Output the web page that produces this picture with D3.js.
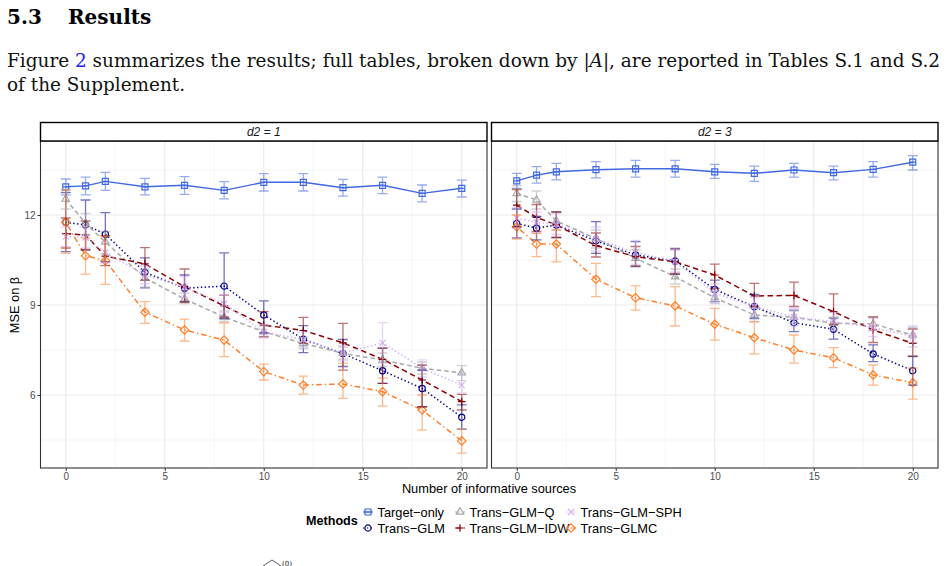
<!DOCTYPE html>
<html>
<head>
<meta charset="utf-8">
<script src="https://cdn.jsdelivr.net/npm/d3@7"></script>
<style>
  body { margin: 0; background: #fff; }
  svg { display: block; }
</style>
</head>
<body>
<svg id="page" width="947" height="566"></svg>
<script>
var xs = [0, 1, 2, 4, 6, 8, 10, 12, 14, 16, 18, 20];
var methods = ["Target-only", "Trans-GLM", "Trans-GLM-Q", "Trans-GLM-IDW", "Trans-GLM-SPH", "Trans-GLMC"];
var facets = ["d2 = 1", "d2 = 3"];
var xTicks = [0, 5, 10, 15, 20];
var xMinor = [2.5, 7.5, 12.5, 17.5];
var yTicks = [6, 9, 12];
var yMinor = [4.5, 7.5, 10.5, 13.5];

// d2 = 1
var d1Target   = [12.94, 12.97, 13.12, 12.94, 12.99, 12.82, 13.09, 13.09, 12.91, 12.99, 12.72, 12.89];
var d1TargetLo = [12.67, 12.67, 12.82, 12.67, 12.69, 12.54, 12.80, 12.80, 12.63, 12.71, 12.44, 12.60];
var d1TargetHi = [13.20, 13.26, 13.42, 13.22, 13.28, 13.11, 13.38, 13.38, 13.19, 13.26, 13.00, 13.16];
var d1Glm      = [11.76, 11.67, 11.36, 10.09, 9.56, 9.63, 8.67, 7.86, 7.38, 6.81, 6.22, 5.26];
var d1GlmLo    = [10.78, 10.83, 10.44, 9.57, 9.11, 8.55, 8.07, 7.41, 6.95, 6.39, 5.61, 4.86];
var d1GlmHi    = [12.75, 12.50, 12.08, 10.57, 10.00, 10.74, 9.14, 8.31, 7.85, 7.56, 6.83, 5.67];
var d1Q        = [12.53, 11.72, 11.10, 9.90, 9.20, 8.60, 8.11, 7.72, 7.39, 7.17, 6.89, 6.74];
var d1QLo      = [12.20, 11.35, 10.70, 9.60, 9.05, 8.45, 7.95, 7.55, 7.20, 6.95, 6.70, 6.48];
var d1QHi      = [12.85, 12.05, 11.45, 10.20, 9.40, 8.80, 8.30, 7.90, 7.60, 7.40, 7.10, 6.98];
var d1Idw      = [11.38, 11.33, 10.63, 10.37, 9.61, 8.97, 8.33, 8.15, 7.74, 7.19, 6.50, 5.78];
var d1IdwLo    = [10.90, 10.85, 10.31, 9.83, 9.09, 8.60, 7.94, 7.72, 6.83, 6.39, 5.60, 5.50];
var d1IdwHi    = [11.90, 11.80, 11.31, 10.91, 10.20, 9.33, 8.78, 8.59, 8.39, 7.56, 7.00, 6.02];
var d1Sph      = [11.28, 11.25, 10.75, 10.00, 9.60, 9.05, 8.10, 7.85, 7.40, 7.74, 6.89, 6.33];
var d1SphLo    = [10.95, 10.90, 10.40, 9.70, 9.25, 8.75, 7.90, 7.60, 7.15, 7.06, 6.60, 6.07];
var d1SphHi    = [11.60, 11.60, 11.10, 10.30, 9.95, 9.35, 8.35, 8.10, 7.65, 8.41, 7.17, 6.73];
var d1Glmc     = [11.76, 10.64, 10.48, 8.76, 8.17, 7.83, 6.78, 6.33, 6.37, 6.11, 5.50, 4.47];
var d1GlmcLo   = [10.72, 10.03, 9.69, 8.39, 7.80, 7.28, 6.50, 6.03, 5.89, 5.63, 4.83, 4.06];
var d1GlmcHi   = [12.83, 11.23, 11.28, 9.11, 8.53, 8.40, 7.03, 6.63, 7.06, 6.56, 6.00, 4.86];

// d2 = 3
var d3Target   = [13.14, 13.33, 13.44, 13.51, 13.54, 13.54, 13.44, 13.39, 13.50, 13.41, 13.52, 13.76];
var d3TargetLo = [12.89, 13.06, 13.17, 13.24, 13.26, 13.26, 13.22, 13.12, 13.26, 13.17, 13.26, 13.50];
var d3TargetHi = [13.39, 13.61, 13.72, 13.78, 13.82, 13.82, 13.69, 13.63, 13.72, 13.63, 13.78, 13.98];
var d3Glm      = [11.72, 11.56, 11.67, 11.14, 10.67, 10.47, 9.52, 8.94, 8.41, 8.19, 7.37, 6.81];
var d3GlmLo    = [11.24, 11.17, 11.25, 10.72, 10.28, 10.02, 9.11, 8.55, 8.11, 7.86, 7.11, 6.33];
var d3GlmHi    = [12.20, 11.95, 12.10, 11.78, 11.11, 10.89, 9.83, 9.35, 8.83, 8.56, 7.67, 7.28];
var d3Q        = [12.72, 12.50, 11.80, 11.22, 10.56, 9.94, 9.24, 8.67, 8.59, 8.39, 8.37, 8.00];
var d3QLo      = [12.45, 12.20, 11.50, 10.90, 10.30, 9.70, 9.05, 8.45, 8.40, 8.20, 8.15, 7.75];
var d3QHi      = [12.98, 12.80, 12.10, 11.50, 10.85, 10.20, 9.45, 8.90, 8.80, 8.60, 8.60, 8.25];
var d3Idw      = [12.33, 11.92, 11.67, 10.98, 10.61, 10.44, 10.00, 9.30, 9.32, 8.78, 8.17, 7.72];
var d3IdwLo    = [11.60, 11.45, 11.25, 10.60, 10.30, 10.05, 9.55, 8.95, 8.95, 8.35, 7.75, 7.30];
var d3IdwHi    = [12.85, 12.35, 12.10, 11.40, 10.95, 10.85, 10.36, 9.72, 9.76, 9.37, 8.60, 8.20];
var d3Sph      = [11.90, 11.75, 11.70, 11.20, 10.75, 10.45, 9.40, 8.95, 8.60, 8.45, 8.25, 7.95];
var d3SphLo    = [11.55, 11.40, 11.35, 10.80, 10.35, 10.10, 9.10, 8.65, 8.30, 8.15, 7.95, 7.60];
var d3SphHi    = [12.25, 12.10, 12.05, 11.60, 11.15, 10.85, 9.70, 9.25, 8.90, 8.75, 8.55, 8.30];
var d3Glmc     = [11.61, 11.03, 11.03, 9.86, 9.24, 8.97, 8.36, 7.91, 7.50, 7.24, 6.67, 6.41];
var d3GlmcLo   = [11.20, 10.61, 10.44, 9.28, 8.83, 8.30, 7.83, 7.37, 7.06, 6.91, 6.33, 5.86];
var d3GlmcHi   = [12.00, 11.39, 11.50, 10.39, 9.64, 9.61, 8.89, 8.44, 8.00, 7.58, 7.00, 6.90];

var series = [
  [ {mean: d1Target, lo: d1TargetLo, hi: d1TargetHi}, {mean: d1Glm, lo: d1GlmLo, hi: d1GlmHi},
    {mean: d1Q, lo: d1QLo, hi: d1QHi}, {mean: d1Idw, lo: d1IdwLo, hi: d1IdwHi},
    {mean: d1Sph, lo: d1SphLo, hi: d1SphHi}, {mean: d1Glmc, lo: d1GlmcLo, hi: d1GlmcHi} ],
  [ {mean: d3Target, lo: d3TargetLo, hi: d3TargetHi}, {mean: d3Glm, lo: d3GlmLo, hi: d3GlmHi},
    {mean: d3Q, lo: d3QLo, hi: d3QHi}, {mean: d3Idw, lo: d3IdwLo, hi: d3IdwHi},
    {mean: d3Sph, lo: d3SphLo, hi: d3SphHi}, {mean: d3Glmc, lo: d3GlmcLo, hi: d3GlmcHi} ]
];

var style = {
  "Target-only":   {color: "#4169e1", dash: null,          shape: "square"},
  "Trans-GLM":     {color: "#00008b", dash: "1.4,2.4",     shape: "circle"},
  "Trans-GLM-Q":   {color: "#a9a9a9", dash: "4.5,3",       shape: "triangle"},
  "Trans-GLM-IDW": {color: "#8b0000", dash: "5.5,3.5",     shape: "plus"},
  "Trans-GLM-SPH": {color: "#d4b0f5", dash: "1.4,2.4",     shape: "cross"},
  "Trans-GLMC":    {color: "#ff7f2a", dash: "1.4,3,5.5,3", shape: "diamond"}
};

var font = "'Liberation Sans', Arial, Helvetica, sans-serif";
var svg = d3.select("#page");

// page text around the figure
var head = svg.append("text")
  .attr("x", 7).attr("y", 24)
  .style("font-family", "'DejaVu Serif', serif").style("font-weight", "bold").style("font-size", "20px");
head.append("tspan").text("5.3");
head.append("tspan").attr("x", 68).text("Results");

var line1 = svg.append("text")
  .attr("x", 7).attr("y", 67)
  .attr("textLength", 933).attr("lengthAdjust", "spacingAndGlyphs")
  .style("font-family", "'DejaVu Serif', serif").style("font-size", "18px").style("fill", "#111");
line1.append("tspan").text("Figure ");
line1.append("tspan").style("fill", "#1f1fff").text("2");
line1.append("tspan").text(" summarizes the results; full tables, broken down by |");
line1.append("tspan").style("font-style", "italic").text("A");
line1.append("tspan").text("|, are reported in Tables S.1 and S.2");

svg.append("text")
  .attr("x", 7).attr("y", 91)
  .attr("textLength", 178).attr("lengthAdjust", "spacingAndGlyphs")
  .style("font-family", "'DejaVu Serif', serif").style("font-size", "18px").style("fill", "#111")
  .text("of the Supplement.");

// top of the next line of the page, cut by the frame
svg.append("path")
  .attr("d", "M263,566 L272,560 L281,566")
  .attr("fill", "none").attr("stroke", "#333").attr("stroke-width", 0.8);
svg.append("text")
  .attr("x", 282).attr("y", 565.5)
  .style("font-family", "'DejaVu Serif', serif").style("font-size", "7px").style("fill", "#111")
  .text("(0)");

// scales
var panelX = [[40.5, 487], [491.5, 938]];
var plotTop = 141, plotBottom = 468;
var y = d3.scaleLinear().domain([3.567, 14.467]).range([plotBottom, plotTop]);

function shape(type, cx, cy) {
  var r;
  if (type == "square") { r = 3; return "M" + (cx - r) + "," + (cy - r) + "h" + 2 * r + "v" + 2 * r + "h" + (-2 * r) + "Z" + "M" + (cx - r) + "," + cy + "h" + 2 * r; }
  if (type == "circle") { r = 3.1; return "M" + (cx - r) + "," + cy + "a" + r + "," + r + " 0 1,0 " + 2 * r + ",0" + "a" + r + "," + r + " 0 1,0 " + (-2 * r) + ",0"; }
  if (type == "triangle") { r = 4.3; return "M" + cx + "," + (cy - r) + "L" + (cx + r * 0.87) + "," + (cy + r * 0.5) + "L" + (cx - r * 0.87) + "," + (cy + r * 0.5) + "Z"; }
  if (type == "plus") { r = 3.8; return "M" + (cx - r) + "," + cy + "h" + 2 * r + "M" + cx + "," + (cy - r) + "v" + 2 * r; }
  if (type == "cross") { r = 3; return "M" + (cx - r) + "," + (cy - r) + "l" + 2 * r + "," + 2 * r + "M" + (cx - r) + "," + (cy + r) + "l" + 2 * r + "," + (-2 * r); }
  r = 4.2;
  return "M" + cx + "," + (cy - r) + "L" + (cx + r) + "," + cy + "L" + cx + "," + (cy + r) + "L" + (cx - r) + "," + cy + "Z";
}

facets.forEach(function(label, f) {
  var x = d3.scaleLinear().domain([-1.275, 21.275]).range(panelX[f]);
  var g = svg.append("g");
  var left = panelX[f][0], right = panelX[f][1];

  g.append("rect")
    .attr("x", left).attr("y", plotTop).attr("width", right - left).attr("height", plotBottom - plotTop)
    .attr("fill", "#fff");

  // grid
  g.selectAll(".ym").data(yMinor).enter().append("line")
    .attr("x1", left).attr("x2", right).attr("y1", y).attr("y2", y)
    .attr("stroke", "#f2f2f2").attr("stroke-width", 0.8);
  g.selectAll(".xm").data(xMinor).enter().append("line")
    .attr("y1", plotTop).attr("y2", plotBottom).attr("x1", x).attr("x2", x)
    .attr("stroke", "#f2f2f2").attr("stroke-width", 0.8);
  g.selectAll(".yM").data(yTicks).enter().append("line")
    .attr("x1", left).attr("x2", right).attr("y1", y).attr("y2", y)
    .attr("stroke", "#ebebeb").attr("stroke-width", 1.2);
  g.selectAll(".xM").data(xTicks).enter().append("line")
    .attr("y1", plotTop).attr("y2", plotBottom).attr("x1", x).attr("x2", x)
    .attr("stroke", "#ebebeb").attr("stroke-width", 1.2);

  var line = d3.line()
    .x(function(d, i) { return x(xs[i]); })
    .y(function(d) { return y(d); });

  // lines
  methods.forEach(function(m, k) {
    g.append("path")
      .datum(series[f][k].mean)
      .attr("d", line)
      .attr("fill", "none")
      .attr("stroke", style[m].color)
      .attr("stroke-width", m == "Target-only" ? 1.4 : 1.5)
      .attr("stroke-dasharray", style[m].dash);
  });

  // points
  methods.forEach(function(m, k) {
    g.selectAll(null).data(series[f][k].mean).enter().append("path")
      .attr("d", function(d, i) { return shape(style[m].shape, x(xs[i]), y(d)); })
      .attr("fill", "none")
      .attr("stroke", style[m].color)
      .attr("stroke-width", 1.2);
  });

  // error bars
  methods.forEach(function(m, k) {
    var s = series[f][k];
    g.selectAll(null).data(xs).enter().append("path")
      .attr("d", function(d, i) {
        var x0 = x(d - 0.25), x1 = x(d + 0.25), xc = x(d);
        return "M" + x0 + "," + y(s.hi[i]) + "H" + x1 +
               "M" + xc + "," + y(s.hi[i]) + "V" + y(s.lo[i]) +
               "M" + x0 + "," + y(s.lo[i]) + "H" + x1;
      })
      .attr("fill", "none")
      .attr("stroke", style[m].color)
      .attr("stroke-opacity", 0.55)
      .attr("stroke-width", 1.3);
  });

  g.append("rect")
    .attr("x", left).attr("y", plotTop).attr("width", right - left).attr("height", plotBottom - plotTop)
    .attr("fill", "none").attr("stroke", "#333").attr("stroke-width", 1.1);

  // strip
  g.append("rect")
    .attr("x", left).attr("y", 122.5).attr("width", right - left).attr("height", plotTop - 122.5)
    .attr("fill", "#fff").attr("stroke", "#000").attr("stroke-width", 1.4);
  g.append("text")
    .attr("x", (left + right) / 2).attr("y", 135.5)
    .attr("text-anchor", "middle")
    .style("font-family", font).style("font-style", "italic").style("font-size", "12px").style("fill", "#1a1a1a")
    .text(label);

  // x axis
  var xa = g.append("g")
    .attr("transform", "translate(0," + plotBottom + ")")
    .call(d3.axisBottom(x).tickValues(xTicks).tickSize(3).tickPadding(2));
  xa.select(".domain").remove();
  xa.selectAll("line").attr("stroke", "#333");
  xa.selectAll("text").style("font-family", font).style("font-size", "10px").style("fill", "#4d4d4d");

  if (f == 0) {
    var ya = g.append("g")
      .attr("transform", "translate(" + left + ",0)")
      .call(d3.axisLeft(y).tickValues(yTicks).tickSize(3).tickPadding(2));
    ya.select(".domain").remove();
    ya.selectAll("line").attr("stroke", "#333");
    ya.selectAll("text").style("font-family", font).style("font-size", "10px").style("fill", "#4d4d4d");
  }
});

// axis titles
svg.append("text")
  .attr("x", 489).attr("y", 493)
  .attr("text-anchor", "middle")
  .style("font-family", font).style("font-size", "12.8px")
  .text("Number of informative sources");
svg.append("text")
  .attr("transform", "translate(19,305) rotate(-90)")
  .attr("text-anchor", "middle")
  .style("font-family", font).style("font-size", "12.8px")
  .text("MSE on \u03b2");

// legend
var legendCol = [368, 460, 571];
var legendRow = [512, 528];
svg.append("text")
  .attr("x", 306).attr("y", 524.5)
  .style("font-family", font).style("font-weight", "bold").style("font-size", "12.6px")
  .text("Methods");

var items = svg.selectAll(".key").data(methods).enter().append("g")
  .attr("transform", function(d, i) {
    return "translate(" + legendCol[Math.floor(i / 2)] + "," + legendRow[i % 2] + ")";
  });
items.append("path")
  .attr("d", "M-5,0H5")
  .attr("stroke", function(d) { return style[d].color; })
  .attr("stroke-width", 1.2)
  .attr("stroke-dasharray", function(d) { return style[d].dash; });
items.append("path")
  .attr("d", function(d) { return shape(style[d].shape, 0, 0); })
  .attr("fill", "none")
  .attr("stroke", function(d) { return style[d].color; })
  .attr("stroke-width", 1.2);
items.append("text")
  .attr("x", 9.5).attr("y", 4.5)
  .style("font-family", font).style("font-size", "12.8px")
  .text(function(d) { return d.replace(/-/g, "\u2212"); });
</script>
</body>
</html>
